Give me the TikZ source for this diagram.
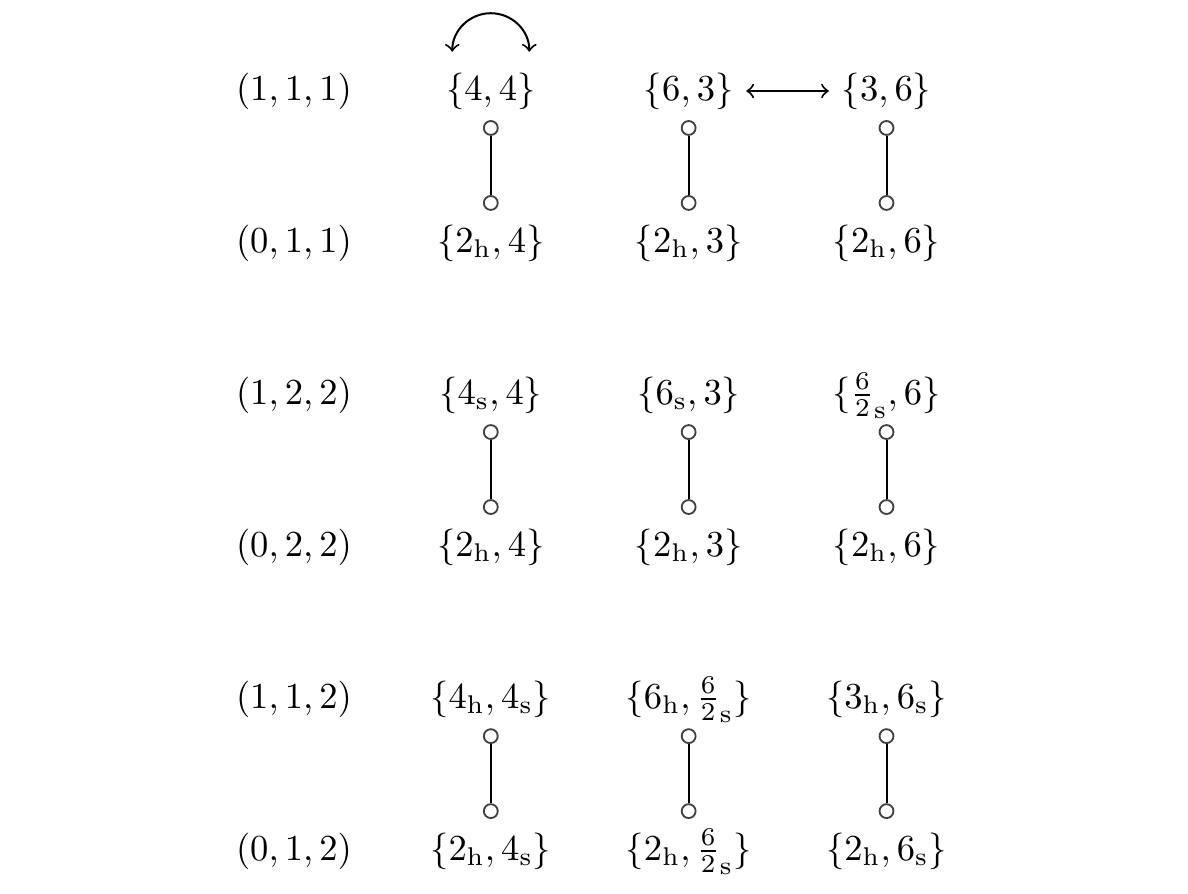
\documentclass[tikz,border=0pt]{standalone}
\usepackage{tikz}
\usetikzlibrary{arrows, positioning}
\tikzstyle{tuple} = [text centered, text height=7.5pt, text depth=2.5pt]
\tikzstyle{port} = [circle, draw=black!75, fill=white, line width=0.5pt, inner sep=0pt, minimum size=3.8pt]
\tikzstyle{link} = [black, line width=0.55pt]
\tikzstyle{arrow} = [<->,>=to, line width=0.55pt]

\begin{document}
\begin{tikzpicture}[node distance=1.46cm]

\useasboundingbox (0,0) rectangle (11.408,-8.585);

% Row labels
\node (t111) [tuple] at (2.823,-0.874) {$(1,1,1)$};
\node (t011) [tuple, below of=t111] {$(0,1,1)$};
\node (t122) [tuple, below of=t011] {$(1,2,2)$};
\node (t022) [tuple, below of=t122] {$(0,2,2)$};
\node (t112) [tuple, below of=t022] {$(1,1,2)$};
\node (t012) [tuple, below of=t112] {$(0,1,2)$};

% Row (1,1,1)
\node (A111) [tuple, right of=t111, xshift=0.43cm] {$\{4,4\}$};
\node (B111) [tuple, right of=A111, xshift=0.44cm] {$\{6,3\}$};
\node (C111) [tuple, right of=B111, xshift=0.44cm] {$\{3,6\}$};

% Row (0,1,1)
\node (A011) [tuple, right of=t011, xshift=0.43cm] {$\{2_{\mathrm{h}},4\}$};
\node (B011) [tuple, right of=A011, xshift=0.44cm] {$\{2_{\mathrm{h}},3\}$};
\node (C011) [tuple, right of=B011, xshift=0.44cm] {$\{2_{\mathrm{h}},6\}$};

% Row (1,2,2)
\node (A122) [tuple, right of=t122, xshift=0.43cm] {$\{4_{\mathrm{s}},4\}$};
\node (B122) [tuple, right of=A122, xshift=0.44cm] {$\{6_{\mathrm{s}},3\}$};
\node (C122) [tuple, right of=B122, xshift=0.44cm] {$\{\frac{6}{2}_{\mathrm{s}},6\}$};

% Row (0,2,2)
\node (A022) [tuple, right of=t022, xshift=0.43cm] {$\{2_{\mathrm{h}},4\}$};
\node (B022) [tuple, right of=A022, xshift=0.44cm] {$\{2_{\mathrm{h}},3\}$};
\node (C022) [tuple, right of=B022, xshift=0.44cm] {$\{2_{\mathrm{h}},6\}$};

% Row (1,1,2)
\node (A112) [tuple, right of=t112, xshift=0.43cm] {$\{4_{\mathrm{h}},4_{\mathrm{s}}\}$};
\node (B112) [tuple, right of=A112, xshift=0.44cm] {$\{6_{\mathrm{h}},\frac{6}{2}_{\mathrm{s}}\}$};
\node (C112) [tuple, right of=B112, xshift=0.44cm] {$\{3_{\mathrm{h}},6_{\mathrm{s}}\}$};

% Row (0,1,2)
\node (A012) [tuple, right of=t012, xshift=0.43cm] {$\{2_{\mathrm{h}},4_{\mathrm{s}}\}$};
\node (B012) [tuple, right of=A012, xshift=0.44cm] {$\{2_{\mathrm{h}},\frac{6}{2}_{\mathrm{s}}\}$};
\node (C012) [tuple, right of=B012, xshift=0.44cm] {$\{2_{\mathrm{h}},6_{\mathrm{s}}\}$};

% Ports
\node (pA111) [port, node distance=0.355cm, below of=A111] {};
\node (pB111) [port, node distance=0.355cm, below of=B111] {};
\node (pC111) [port, node distance=0.355cm, below of=C111] {};
\node (pA011) [port, node distance=0.385cm, above of=A011] {};
\node (pB011) [port, node distance=0.385cm, above of=B011] {};
\node (pC011) [port, node distance=0.385cm, above of=C011] {};

\node (pA122) [port, node distance=0.355cm, below of=A122] {};
\node (pB122) [port, node distance=0.355cm, below of=B122] {};
\node (pC122) [port, node distance=0.355cm, below of=C122] {};
\node (pA022) [port, node distance=0.385cm, above of=A022] {};
\node (pB022) [port, node distance=0.385cm, above of=B022] {};
\node (pC022) [port, node distance=0.385cm, above of=C022] {};

\node (pA112) [port, node distance=0.355cm, below of=A112] {};
\node (pB112) [port, node distance=0.355cm, below of=B112] {};
\node (pC112) [port, node distance=0.355cm, below of=C112] {};
\node (pA012) [port, node distance=0.385cm, above of=A012] {};
\node (pB012) [port, node distance=0.385cm, above of=B012] {};
\node (pC012) [port, node distance=0.385cm, above of=C012] {};

% Links
\draw [link] (pA111) -- (pA011);
\draw [link] (pB111) -- (pB011);
\draw [link] (pC111) -- (pC011);
\draw [link] (pA122) -- (pA022);
\draw [link] (pB122) -- (pB022);
\draw [link] (pC122) -- (pC022);
\draw [link] (pA112) -- (pA012);
\draw [link] (pB112) -- (pB012);
\draw [link] (pC112) -- (pC012);

% Swaps
\coordinate (swapL) at ([xshift=-0.37cm, yshift=0.377cm]A111.center);
\draw [arrow] (swapL) arc[start angle=180, end angle=0, radius=0.37cm];
\draw [arrow] (B111) -- (C111);

\end{tikzpicture}
\end{document}
